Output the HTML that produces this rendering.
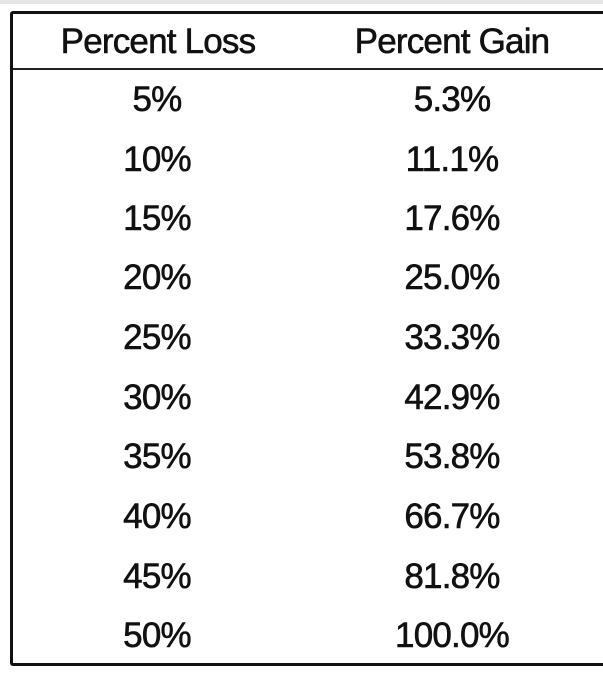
<!DOCTYPE html>
<html><head><style>
body{margin:0;width:603px;height:680px;background:#fff;overflow:hidden;position:relative;font-family:"Liberation Sans",sans-serif;color:#111}
.top{position:absolute;left:0;top:0;width:603px;height:4px;background:#e6e6e6}
.box{position:absolute;left:10px;top:11px;width:620px;height:649px;border:3px solid #111;border-radius:3px;box-sizing:content-box}
.hl{position:absolute;left:13px;top:68px;width:600px;height:2px;background:#222}
.t{position:absolute;font-size:35px;transform:translate(-50%,-50%);white-space:nowrap;letter-spacing:-0.8px;-webkit-text-stroke:0.6px #111}
</style></head><body>
<div class="top"></div>
<div class="box"></div>
<div class="hl"></div>
<div class="t" style="left:158px;top:42px">Percent Loss</div>
<div class="t" style="left:452px;top:42px">Percent Gain</div>
<div class="t" style="left:157px;top:100px">5%</div><div class="t" style="left:452px;top:100px">5.3%</div>
<div class="t" style="left:157px;top:160px">10%</div><div class="t" style="left:452px;top:160px">11.1%</div>
<div class="t" style="left:157px;top:219px">15%</div><div class="t" style="left:452px;top:219px">17.6%</div>
<div class="t" style="left:157px;top:278px">20%</div><div class="t" style="left:452px;top:278px">25.0%</div>
<div class="t" style="left:157px;top:338px">25%</div><div class="t" style="left:452px;top:338px">33.3%</div>
<div class="t" style="left:157px;top:398px">30%</div><div class="t" style="left:452px;top:398px">42.9%</div>
<div class="t" style="left:157px;top:457px">35%</div><div class="t" style="left:452px;top:457px">53.8%</div>
<div class="t" style="left:157px;top:517px">40%</div><div class="t" style="left:452px;top:517px">66.7%</div>
<div class="t" style="left:157px;top:577px">45%</div><div class="t" style="left:452px;top:577px">81.8%</div>
<div class="t" style="left:157px;top:636px">50%</div><div class="t" style="left:452px;top:636px">100.0%</div>
</body></html>
